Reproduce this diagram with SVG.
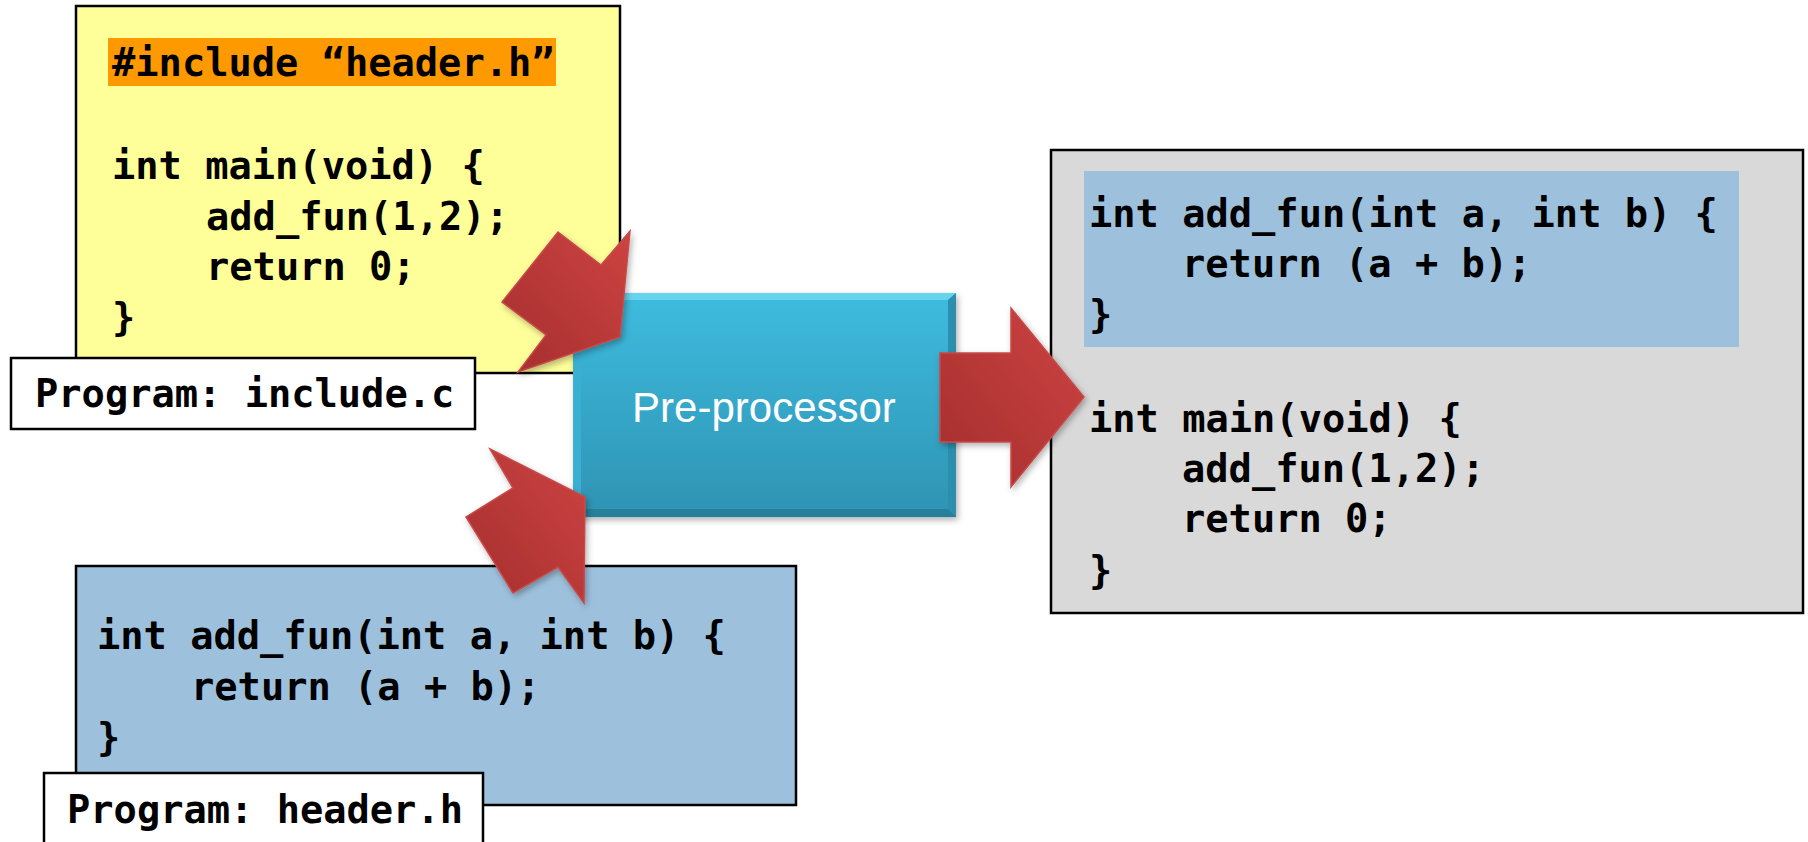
<svg xmlns="http://www.w3.org/2000/svg" width="1808" height="842" viewBox="0 0 1808 842">
  <style>
    .code { font-family: "DejaVu Sans Mono", "Liberation Mono", monospace; font-weight: bold; font-size: 38.7px; fill: #000; }
    .box { stroke: #000; stroke-width: 2.5; }
    .label { fill: #fff; stroke: #000; stroke-width: 2.5; }
    .arrow { fill: url(#redGrad); stroke: #C84A48; stroke-width: 1.5; stroke-linejoin: miter; filter: url(#softShadow); }
    .proc-text { font-family: "Liberation Sans", Arial, sans-serif; font-size: 42px; fill: #fff; }
  </style>
  <defs>
    <linearGradient id="redGrad" x1="1" y1="0" x2="0" y2="1">
      <stop offset="0" stop-color="#CD4341"/>
      <stop offset="1" stop-color="#A52E2E"/>
    </linearGradient>
    <linearGradient id="procGrad" x1="0" y1="0" x2="0" y2="1">
      <stop offset="0" stop-color="#3EBCDF"/>
      <stop offset="1" stop-color="#2E93B3"/>
    </linearGradient>
    <filter id="softShadow" x="-20%" y="-20%" width="140%" height="140%">
      <feDropShadow dx="2" dy="3" stdDeviation="3" flood-color="#000" flood-opacity="0.3"/>
    </filter>
  </defs>

  <!-- Source file: include.c -->
  <g id="include-c">
    <rect class="box" x="76" y="6" width="544" height="367" fill="#FFFF99"/>
    <rect x="108" y="38" width="448" height="48" fill="#FF9900"/>
    <text class="code" x="112" y="76">#include “header.h”</text>
    <text class="code" x="112" y="179">int main(void) {</text>
    <text class="code" x="206" y="230">add_fun(1,2);</text>
    <text class="code" x="206" y="280">return 0;</text>
    <text class="code" x="112" y="331">}</text>
  </g>
  <g id="include-c-label">
    <rect class="label" x="11" y="358" width="464" height="71"/>
    <text class="code" x="35" y="407">Program: include.c</text>
  </g>

  <!-- Header file: header.h -->
  <g id="header-h">
    <rect class="box" x="76" y="566" width="720" height="239" fill="#9DC1DD"/>
    <text class="code" x="97" y="649">int add_fun(int a, int b) {</text>
    <text class="code" x="191" y="700">return (a + b);</text>
    <text class="code" x="97" y="751">}</text>
  </g>
  <g id="header-h-label">
    <rect class="label" x="44" y="773" width="439" height="80"/>
    <text class="code" x="67" y="823">Program: header.h</text>
  </g>

  <!-- Pre-processed output -->
  <g id="output">
    <rect class="box" x="1051" y="150" width="752" height="463" fill="#D9D9D9"/>
    <rect x="1084" y="171" width="655" height="176" fill="#9DC1DD"/>
    <text class="code" x="1089" y="227">int add_fun(int a, int b) {</text>
    <text class="code" x="1182" y="277">return (a + b);</text>
    <text class="code" x="1089" y="328">}</text>
    <text class="code" x="1089" y="432">int main(void) {</text>
    <text class="code" x="1182" y="482">add_fun(1,2);</text>
    <text class="code" x="1182" y="532">return 0;</text>
    <text class="code" x="1089" y="584">}</text>
  </g>

  <!-- Pre-processor block with bevelled edges -->
  <g id="preprocessor">
    <rect x="573" y="293" width="383" height="224" fill="url(#procGrad)" filter="url(#softShadow)"/>
    <polygon points="573,293 956,293 948,300 581,300" fill="#6FD8F2" opacity="0.85"/>
    <polygon points="956,293 956,517 948,509 948,300" fill="#2C8FAE"/>
    <polygon points="573,517 956,517 948,509 581,509" fill="#267F9B"/>
    <polygon points="573,293 581,300 581,509 573,517" fill="#3AAFD1"/>
    <text class="proc-text" x="764" y="422" text-anchor="middle">Pre-processor</text>
  </g>

  <!-- Block arrows -->
  <g id="connectors">
    <polygon class="arrow" points="558,232 601,265 630,231 620,337 518,372 546,335 502,302"/>
    <polygon class="arrow" points="490,449 585,497 584,603 558,567 513,593 466,517 513,488"/>
    <polygon class="arrow" points="940,353 1011,353 1011,308 1084,397 1011,487 1011,442 940,442"/>
  </g>
</svg>
